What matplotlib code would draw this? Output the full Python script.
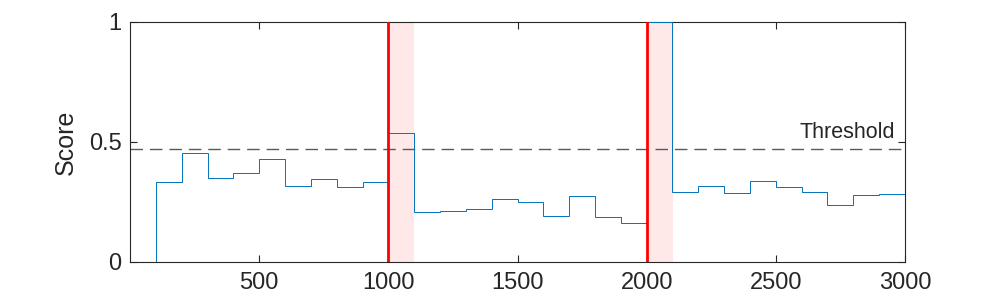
import numpy as np
import matplotlib
matplotlib.use("Agg")
import matplotlib.pyplot as plt

plt.rcParams['font.family'] = ['Liberation Sans', 'DejaVu Sans']

# Data
edges = [0, 100, 200, 300, 400, 500, 600, 700, 800, 900, 1000, 1100, 1200, 1300, 1400,
         1500, 1600, 1700, 1800, 1900, 2000, 2100, 2200, 2300, 2400, 2500, 2600, 2700,
         2800, 2900, 3000]
scores = [0.0, 0.332, 0.453, 0.349, 0.371, 0.428, 0.315, 0.345, 0.311, 0.332,
          0.536, 0.207, 0.2125, 0.2195, 0.261, 0.249, 0.19, 0.274, 0.186, 0.161,
          1.0, 0.292, 0.315, 0.286, 0.3375, 0.311, 0.292, 0.236, 0.278, 0.282]
threshold = 0.47
change_points = [1000, 2000]
shade_width = 100
xticks = [500, 1000, 1500, 2000, 2500, 3000]
yticks = [0, 0.5, 1]
ytick_labels = ['0', '0.5', '1']

fig = plt.figure(figsize=(10, 3), dpi=100)
ax = fig.add_axes([0.130, 0.127, 0.775, 0.80])

dark = '#262626'
for cp in change_points:
    ax.axvspan(cp, cp + shade_width, color='#ff0000', alpha=0.09, lw=0, zorder=1)

ax.stairs(scores, edges, color='#0072BD', lw=0.7, zorder=3)
ax.axhline(threshold, color='#5a5a5a', lw=1.0, dashes=(9, 5), zorder=2)
for cp in change_points:
    ax.axvline(cp, color='#ff0000', lw=2.0, zorder=4)

ax.text(2960, threshold + 0.025, 'Threshold', ha='right', va='bottom',
        fontsize=15.5, color=dark)

ax.set_xlim(0, 3000)
ax.set_ylim(0, 1)
ax.set_xticks(xticks)
ax.set_yticks(yticks)
ax.set_yticklabels(ytick_labels)
ax.tick_params(direction='in', length=5, width=0.8, colors=dark, labelsize=17,
               top=True, right=True, pad=6)
ax.tick_params(axis='x', pad=7)
for s in ax.spines.values():
    s.set_color(dark)
    s.set_linewidth(0.8)
ax.set_ylabel('Score', fontsize=18, color=dark, labelpad=8)

fig.savefig('out.png', dpi=100)
